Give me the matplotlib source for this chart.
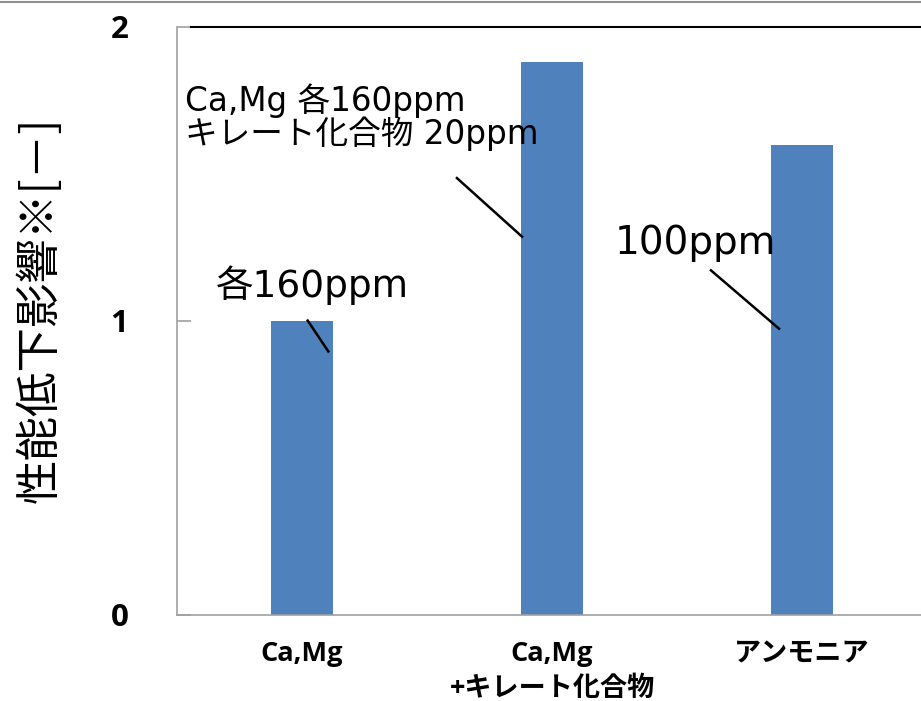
import matplotlib
matplotlib.use("Agg")
import matplotlib.pyplot as plt
from matplotlib.lines import Line2D

# Chart data
categories = ["Ca,Mg", "Ca,Mg\n+キレート化合物", "アンモニア"]
values = [1.0, 1.88, 1.6]
y_ticks = [0, 1, 2]
y_label = "性能低下影響※[－]"
note_texts = ["各160ppm", "Ca,Mg 各160ppm\nキレート化合物 20ppm", "100ppm"]

BAR_COLOR = "#4F81BD"
SPINE_GRAY = "#A0A0A0"
LATIN_CJK = ["Open Sans", "Noto Sans CJK JP"]
NOTE_FONT = ["DejaVu Sans", "Noto Sans CJK JP"]

fig = plt.figure(figsize=(9.21, 7.01), dpi=100)
ax = fig.add_axes([177 / 921, 86 / 701, 750 / 921, 588 / 701])

x = list(range(len(categories)))
ax.bar(x, values, width=0.25, color=BAR_COLOR, zorder=2)

ax.set_xlim(-0.5, len(categories) - 0.5)
ax.set_ylim(0, 2)

# spines
for side in ("left", "bottom"):
    ax.spines[side].set_color(SPINE_GRAY)
    ax.spines[side].set_linewidth(1.2)
ax.spines["top"].set_color("black")
ax.spines["top"].set_linewidth(1.5)
ax.spines["top"].set_bounds(-0.444, len(categories) - 0.5)
ax.spines["right"].set_visible(False)

# y axis
ax.set_yticks(y_ticks)
ax.set_yticklabels([str(t) for t in y_ticks], family=LATIN_CJK,
                   fontweight="bold", fontsize=22.5)
ax.tick_params(axis="y", direction="in", length=10, width=1.2,
               color=SPINE_GRAY, pad=35)

# x axis
ax.set_xticks(x)
ax.set_xticklabels(categories, family=LATIN_CJK, fontweight="bold",
                   fontsize=19.5, linespacing=1.45)
ax.tick_params(axis="x", length=0, pad=19)

# y axis title
fig.text(40 / 921, 1 - 310 / 701, y_label, rotation=90, ha="center",
         va="center", family=["Noto Sans CJK JP", "DejaVu Sans"], fontsize=32)

# annotations with leader lines
def note(text, tx, ty, size, **kw):
    ax.text(tx, ty, text, ha="left", va="baseline", family=NOTE_FONT,
            fontsize=size, zorder=4, **kw)

def leader(x0, y0, x1, y1):
    ax.plot([x0, x1], [y0, y1], color="black", lw=1.8, zorder=3,
            solid_capstyle="butt")

note(note_texts[0], -0.344, 1.083, 27)
leader(0.02, 1.005, 0.108, 0.893)

note(note_texts[1], -0.468, 1.601, 23.5, linespacing=0.95)
leader(0.616, 1.489, 0.884, 1.284)

note(note_texts[2], 1.252, 1.227, 28)
leader(1.632, 1.175, 1.912, 0.971)

# thin frame line along the top of the figure
fig.add_artist(Line2D([0, 1], [1 - 1.5 / 701, 1 - 1.5 / 701],
                      transform=fig.transFigure, color="#909090", lw=1.5))

fig.savefig("out.png", dpi=100)
